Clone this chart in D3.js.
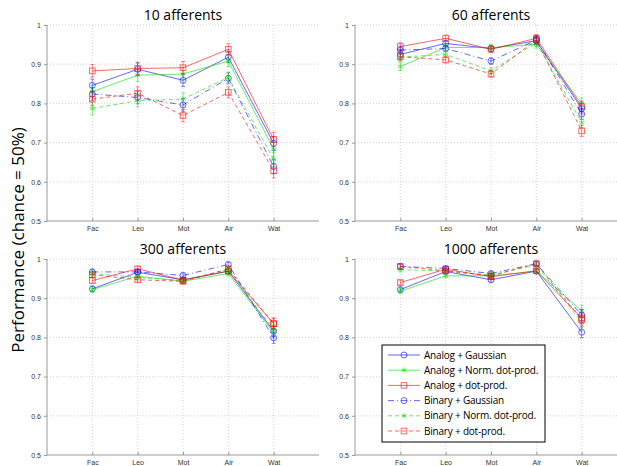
<!DOCTYPE html>
<meta charset="utf-8">
<style>
body { margin: 0; background: #fff; font-family: "Open Sans", "Liberation Sans", Arial; }
.grid line { stroke: #c8c8c8; stroke-dasharray: 1,2; stroke-width: 0.8; }
.axis path, .axis line { stroke: #999; }
.axis text { fill: #333; font-size: 7px; }
.title { font-size: 14px; text-anchor: middle; }
.series path.line { fill: none; stroke-width: 1; opacity: 0.6; }
.legend text { font-size: 10px; letter-spacing: -0.2px; }
</style>
<svg width="617" height="466"></svg>
<script src="https://cdnjs.cloudflare.com/ajax/libs/d3/7.8.5/d3.min.js"></script>
<script>

var categories = ["Fac", "Leo", "Mot", "Air", "Wat"];
var panelTitles = ["10 afferents", "60 afferents", "300 afferents", "1000 afferents"];
var seriesNames = ["Analog + Gaussian", "Analog + Norm. dot-prod.", "Analog + dot-prod.",
                   "Binary + Gaussian", "Binary + Norm. dot-prod.", "Binary + dot-prod."];
var seriesColors = ["#0000ff", "#00e000", "#ff0000", "#0000ff", "#00e000", "#ff0000"];
var seriesDash = [null, null, null, "6,3,1,3", "4,3", "4,3"];
var seriesMarker = ["circle", "star", "square", "circle", "star", "square"];
var yTicks = [0.5, 0.6, 0.7, 0.8, 0.9, 1];

// rows follow seriesNames, columns follow categories
var aff10 = [
  [0.846, 0.887, 0.859, 0.918, 0.698],
  [0.830, 0.872, 0.875, 0.908, 0.683],
  [0.883, 0.889, 0.891, 0.938, 0.708],
  [0.824, 0.815, 0.796, 0.864, 0.639],
  [0.787, 0.807, 0.811, 0.866, 0.657],
  [0.811, 0.826, 0.769, 0.828, 0.628]
];
var aff60 = [
  [0.925, 0.953, 0.940, 0.960, 0.787],
  [0.894, 0.943, 0.942, 0.951, 0.800],
  [0.945, 0.966, 0.938, 0.966, 0.792],
  [0.936, 0.940, 0.908, 0.962, 0.773],
  [0.918, 0.925, 0.883, 0.955, 0.751],
  [0.919, 0.911, 0.875, 0.962, 0.730]
];
var aff300 = [
  [0.924, 0.966, 0.947, 0.969, 0.816],
  [0.922, 0.956, 0.943, 0.963, 0.812],
  [0.945, 0.975, 0.946, 0.969, 0.835],
  [0.967, 0.967, 0.958, 0.986, 0.799],
  [0.963, 0.953, 0.945, 0.973, 0.820],
  [0.960, 0.947, 0.943, 0.975, 0.835]
];
var aff1000 = [
  [0.922, 0.968, 0.947, 0.969, 0.813],
  [0.918, 0.957, 0.957, 0.969, 0.868],
  [0.940, 0.974, 0.955, 0.970, 0.849],
  [0.981, 0.976, 0.963, 0.988, 0.857],
  [0.973, 0.969, 0.959, 0.985, 0.838],
  [0.981, 0.970, 0.957, 0.988, 0.845]
];
// half-width of the error bars, per category
var err10 = [0.016, 0.016, 0.016, 0.014, 0.018];
var err60 = [0.010, 0.008, 0.008, 0.010, 0.014];
var err300 = [0.007, 0.006, 0.006, 0.006, 0.014];
var err1000 = [0.006, 0.005, 0.006, 0.005, 0.014];

var panelData = [aff10, aff60, aff300, aff1000];
var panelErr = [err10, err60, err300, err1000];
var panelPos = [[47, 25], [355, 25], [47, 259], [355, 259]];
var width = 272, height = 196;

var svg = d3.select("svg");

var x = d3.scaleLinear().domain([0, categories.length + 1]).range([0, width]);
var y = d3.scaleLinear().domain([0.5, 1]).range([height, 0]);

function marker(sel, type, color) {
  if (type == "circle") {
    sel.append("circle").attr("r", 3).attr("fill", "none").attr("stroke", color);
  } else if (type == "square") {
    sel.append("rect").attr("x", -2.8).attr("y", -2.8).attr("width", 5.6).attr("height", 5.6)
      .attr("fill", "none").attr("stroke", color);
  } else {
    var sym = d3.symbolAsterisk || d3.symbolCross;
    sel.append("path").attr("d", d3.symbol().type(sym).size(22)())
      .attr("fill", "none").attr("stroke", color);
  }
}

panelData.forEach(function(rows, p) {
  var g = svg.append("g")
      .attr("transform", "translate(" + panelPos[p][0] + "," + panelPos[p][1] + ")");

  var grid = g.append("g").attr("class", "grid");
  grid.selectAll("line.h").data(yTicks.slice(1)).enter().append("line")
      .attr("x1", 0).attr("x2", width)
      .attr("y1", function(d) { return y(d); }).attr("y2", function(d) { return y(d); });
  grid.selectAll("line.v").data(categories).enter().append("line")
      .attr("x1", function(d, i) { return x(i + 1); }).attr("x2", function(d, i) { return x(i + 1); })
      .attr("y1", 0).attr("y2", height);

  g.append("g").attr("class", "axis")
      .call(d3.axisLeft(y).tickValues(yTicks).tickSize(3).tickPadding(3)
        .tickFormat(function(d) { return d == 1 ? "1" : d3.format(".1f")(d); }))
      .call(function(a) { a.select(".domain").attr("d", "M0,0V" + height); });

  g.append("g").attr("class", "axis")
      .attr("transform", "translate(0," + height + ")")
      .call(d3.axisBottom(x).tickValues(d3.range(1, categories.length + 1)).tickSize(-3).tickPadding(5)
        .tickFormat(function(d) { return categories[d - 1]; }))
      .call(function(a) { a.select(".domain").attr("d", "M0,0H" + width); });

  g.append("text").attr("class", "title")
      .attr("x", width / 2).attr("y", -5)
      .text(panelTitles[p]);

  rows.forEach(function(vals, s) {
    var color = seriesColors[s];
    var sg = g.append("g").attr("class", "series");
    var line = d3.line()
        .x(function(d, i) { return x(i + 1); })
        .y(function(d) { return y(d); });
    sg.append("path").attr("class", "line")
        .datum(vals)
        .attr("d", line)
        .attr("stroke", color)
        .attr("stroke-dasharray", seriesDash[s]);

    var pts = sg.selectAll("g.pt").data(vals).enter().append("g")
        .attr("opacity", 0.6)
        .attr("transform", function(d, i) { return "translate(" + x(i + 1) + "," + y(d) + ")"; });
    pts.append("path")
        .attr("fill", "none").attr("stroke", color).attr("stroke-width", 0.8)
        .attr("d", function(d, i) {
          var e = panelErr[p][i];
          var top = y(d + e) - y(d), bot = y(d - e) - y(d);
          return "M0," + top + "V" + bot + "M-2," + top + "H2M-2," + bot + "H2";
        });
    pts.each(function() { marker(d3.select(this), seriesMarker[s], color); });
  });
});

// legend inside the 1000 afferents panel
var lg = svg.append("g").attr("class", "legend")
    .attr("transform", "translate(382,345)");
lg.append("rect").attr("width", 163).attr("height", 97)
    .attr("fill", "#fff").attr("stroke", "#000").attr("stroke-width", 1);
seriesNames.forEach(function(name, s) {
  var row = lg.append("g").attr("transform", "translate(0," + (10 + s * 15.2) + ")");
  row.append("line").attr("x1", 6).attr("x2", 38)
      .attr("stroke", seriesColors[s]).attr("opacity", 0.6)
      .attr("stroke-dasharray", seriesDash[s]);
  var m = row.append("g").attr("transform", "translate(22,0)").attr("opacity", 0.6);
  marker(m, seriesMarker[s], seriesColors[s]);
  row.append("text").attr("x", 42).attr("dy", "0.35em").text(name);
});

svg.append("text")
    .attr("transform", "translate(24,240) rotate(-90)")
    .attr("text-anchor", "middle")
    .style("font-size", "17px")
    .text("Performance (chance = 50%)");

</script>
